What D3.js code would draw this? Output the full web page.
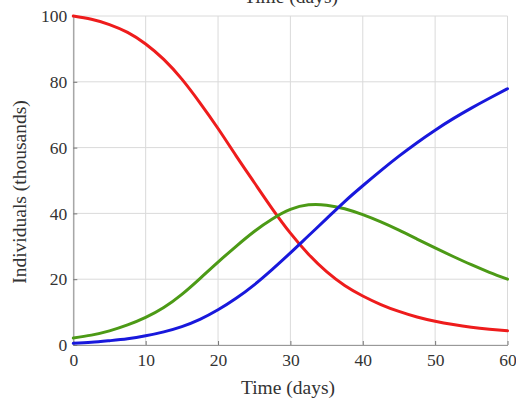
<!DOCTYPE html>
<html><head><meta charset="utf-8">
<script src="https://cdn.jsdelivr.net/npm/d3@7"></script>
<style>
html,body{margin:0;padding:0;background:#fff;}
svg{display:block;}
text{font-family:"Liberation Serif","Times New Roman",serif;fill:#333;}
</style></head>
<body>
<svg id="chart" width="516" height="402"></svg>
<script>
const days        = [0, 2.5, 5, 7.5, 10, 12.5, 15, 17.5, 20, 22.5, 25, 27.5, 30, 32.5, 35, 37.5, 40, 42.5, 45, 47.5, 50, 52.5, 55, 57.5, 60];
const susceptible = [100, 99.0, 97.4, 95.0, 91.5, 86.8, 80.8, 73.6, 65.8, 57.5, 49.4, 41.4, 34.0, 27.6, 22.3, 18.1, 14.9, 12.3, 10.2, 8.5, 7.2, 6.2, 5.4, 4.8, 4.3];
const infected    = [2.1, 3.0, 4.3, 6.1, 8.4, 11.4, 15.4, 20.2, 25.2, 30.0, 34.5, 38.3, 41.2, 42.6, 42.5, 41.4, 39.6, 37.4, 34.9, 32.2, 29.5, 26.9, 24.4, 22.1, 20.0];
const recovered   = [0.5, 0.8, 1.3, 1.9, 2.8, 4.0, 5.6, 7.8, 10.7, 14.2, 18.3, 23.0, 28.0, 33.2, 38.4, 43.6, 48.4, 53.0, 57.4, 61.5, 65.3, 68.8, 72.0, 75.0, 77.9];
const xTicks = [0, 10, 20, 30, 40, 50, 60];
const yTicks = [0, 20, 40, 60, 80, 100];
const xLabel = "Time (days)";
const yLabel = "Individuals (thousands)";
const titleText = "Time (days)";

const svg = d3.select("#chart");
const x = d3.scaleLinear().domain([0, 60]).range([73.3, 507.5]);
const y = d3.scaleLinear().domain([0, 100]).range([345, 16]);

// grid
svg.append("g").selectAll("line").data(xTicks).join("line")
  .attr("x1", d => x(d)).attr("x2", d => x(d)).attr("y1", y(0)).attr("y2", y(100))
  .attr("stroke", "#dadada").attr("stroke-width", 1);
svg.append("g").selectAll("line").data(yTicks).join("line")
  .attr("x1", x(0)).attr("x2", x(60)).attr("y1", d => y(d)).attr("y2", d => y(d))
  .attr("stroke", "#dadada").attr("stroke-width", 1);

// axes
const xAxis = svg.append("g").attr("transform", `translate(0,${y(0)})`)
  .call(d3.axisBottom(x).tickValues(xTicks).tickSizeInner(-4).tickSizeOuter(0).tickPadding(9));
const yAxis = svg.append("g").attr("transform", `translate(${x(0)},0)`)
  .call(d3.axisLeft(y).tickValues(yTicks).tickSizeInner(-4).tickSizeOuter(0).tickPadding(6));
[xAxis, yAxis].forEach(a => {
  a.select(".domain").attr("stroke", "#999").attr("stroke-width", 1.2);
  a.selectAll(".tick line").attr("stroke", "#777");
  a.selectAll("text").attr("font-family", "Liberation Serif, serif").attr("font-size", 17.5).attr("fill", "#333");
});

const line = d3.line().x((d, i) => x(days[i])).y(d => y(d)).curve(d3.curveNatural);
const series = [[susceptible, "#ee1c1c"], [infected, "#4c9a16"], [recovered, "#1818dc"]];
series.forEach(([vals, col]) => {
  svg.append("path").datum(vals).attr("d", line)
    .attr("fill", "none").attr("stroke", col).attr("stroke-width", 3)
    .attr("stroke-linejoin", "round").attr("stroke-linecap", "round");
});

svg.append("text").attr("x", 288).attr("y", 394).attr("text-anchor", "middle")
  .attr("font-size", 19.5).text(xLabel);
svg.append("text").attr("transform", "translate(26,192) rotate(-90)").attr("text-anchor", "middle")
  .attr("font-size", 19.5).text(yLabel);
svg.append("text").attr("x", 291).attr("y", 3).attr("text-anchor", "middle")
  .attr("font-size", 19.5).text(titleText);
</script>
</body></html>
